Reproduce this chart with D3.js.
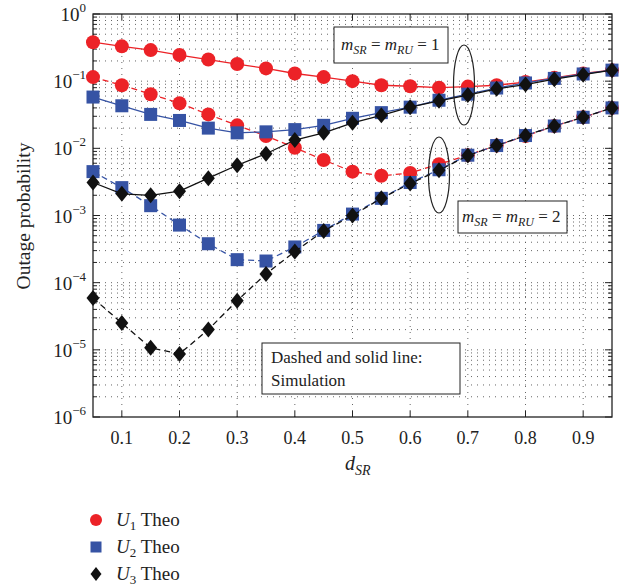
<!DOCTYPE html>
<html><head><meta charset="utf-8">
<script src="https://cdn.jsdelivr.net/npm/d3@7"></script>
<style>body{margin:0;background:#fff;} text{font-family:"Liberation Serif","DejaVu Serif",serif;fill:#222;}</style>
</head><body><svg id="c" width="623" height="586"></svg>
<script>
const xs = [0.05,0.1,0.15,0.2,0.25,0.3,0.35,0.4,0.45,0.5,0.55,0.6,0.65,0.7,0.75,0.8,0.85,0.9,0.95];
const u1m1 = [0.38,0.33,0.29,0.245,0.21,0.18,0.155,0.13,0.115,0.10,0.087,0.084,0.080,0.083,0.087,0.097,0.112,0.13,0.146];
const u2m1 = [0.058,0.043,0.032,0.026,0.020,0.017,0.0176,0.019,0.022,0.028,0.034,0.041,0.052,0.064,0.079,0.094,0.11,0.128,0.146];
const u3m1 = [0.0031,0.0021,0.002,0.0023,0.0036,0.0056,0.0083,0.0133,0.017,0.024,0.031,0.041,0.051,0.062,0.077,0.089,0.107,0.125,0.146];
const u1m2 = [0.115,0.087,0.064,0.047,0.032,0.022,0.0153,0.0102,0.0067,0.0045,0.0039,0.0043,0.0058,0.0079,0.011,0.0153,0.0215,0.029,0.040];
const u2m2 = [0.0045,0.0026,0.0014,0.00072,0.00038,0.00022,0.00021,0.00034,0.0006,0.00105,0.0018,0.0031,0.0048,0.0079,0.011,0.0155,0.0215,0.029,0.040];
const u3m2 = [5.9e-5,2.5e-5,1.07e-5,8.7e-6,2.0e-5,5.4e-5,1.35e-4,2.9e-4,5.9e-4,0.001,0.0018,0.003,0.0047,0.0078,0.011,0.0155,0.0215,0.029,0.040];
const xTicks = [0.1,0.2,0.3,0.4,0.5,0.6,0.7,0.8,0.9];
const yExps = [0,-1,-2,-3,-4,-5,-6];
const legendLabels = ["1","2","3"];

const svg = d3.select("#c");
const L=93,T=14,R=612,B=417;
const x = d3.scaleLinear().domain([0.05,0.95]).range([L,R]);
const y = d3.scaleLog().domain([1e-6,1]).range([B,T]);
const RED="#ec2227", BLUE="#3653a4", BLK="#111";

// grid
const g = svg.append("g");
const minor=[];
for(let e=-6;e<0;e++){for(let k=1;k<10;k++){minor.push(k*Math.pow(10,e));}}
minor.push(1);
g.selectAll("line.gy").data(minor.filter(v=>v>1e-6&&v<1)).enter().append("line")
 .attr("x1",L).attr("x2",R).attr("y1",d=>y(d)).attr("y2",d=>y(d))
 .attr("stroke","#555").attr("stroke-width",0.9).attr("stroke-dasharray","1,5");
g.selectAll("line.gx").data(xTicks).enter().append("line")
 .attr("x1",d=>x(d)).attr("x2",d=>x(d)).attr("y1",T).attr("y2",B)
 .attr("stroke","#555").attr("stroke-width",0.9).attr("stroke-dasharray","1,5");

// axes with ticks inside
const ax = svg.append("g");
minor.forEach(v=>{
  const isMaj = Math.abs(Math.log10(v)-Math.round(Math.log10(v)))<1e-9;
  const len = isMaj?7:4;
  ax.append("line").attr("x1",L).attr("x2",L+len).attr("y1",y(v)).attr("y2",y(v)).attr("stroke","#222");
  ax.append("line").attr("x1",R).attr("x2",R-len).attr("y1",y(v)).attr("y2",y(v)).attr("stroke","#222");
});
xTicks.forEach(v=>{
  ax.append("line").attr("x1",x(v)).attr("x2",x(v)).attr("y1",B).attr("y2",B-6).attr("stroke","#222");
  ax.append("line").attr("x1",x(v)).attr("x2",x(v)).attr("y1",T).attr("y2",T+6).attr("stroke","#222");
});
svg.append("rect").attr("x",L).attr("y",T).attr("width",R-L).attr("height",B-T).attr("fill","none").attr("stroke","#222").attr("stroke-width",1.3);

// tick labels
xTicks.forEach(v=>{
  svg.append("text").attr("x",x(v)).attr("y",444).attr("text-anchor","middle").attr("font-size",18).text(v.toFixed(1));
});
yExps.forEach(e=>{
  const t = svg.append("text").attr("x",86).attr("y",y(Math.pow(10,e))+7).attr("text-anchor","end").attr("font-size",19);
  t.append("tspan").text("10");
  t.append("tspan").attr("dy",-9).attr("font-size",13).text(e===0?"0":"\u2212"+(-e));
});
svg.append("text").attr("transform","translate(30,216) rotate(-90)").attr("text-anchor","middle").attr("font-size",19.5).text("Outage probability");
const xl = svg.append("text").attr("x",345).attr("y",470).attr("font-size",20).attr("font-style","italic");
xl.append("tspan").text("d");
xl.append("tspan").attr("dy",5).attr("font-size",14).text("SR");

// series
const line = d3.line().x((d,i)=>x(xs[i])).y(d=>y(d));
function drawSeries(data,color,dashed,shape){
  svg.append("path").datum(data).attr("d",line).attr("fill","none").attr("stroke",color)
    .attr("stroke-width",1.3).attr("stroke-dasharray",dashed?"6,4":null);
  const gg = svg.append("g");
  data.forEach((v,i)=>{
    const cx=x(xs[i]), cy=y(v);
    if(shape==="c") gg.append("circle").attr("cx",cx).attr("cy",cy).attr("r",7).attr("fill",color);
    else if(shape==="s") gg.append("rect").attr("x",cx-6.5).attr("y",cy-6.5).attr("width",13).attr("height",13).attr("fill",color);
    else gg.append("path").attr("d",`M${cx},${cy-8}L${cx+6.5},${cy}L${cx},${cy+8}L${cx-6.5},${cy}Z`).attr("fill",color);
  });
}
drawSeries(u1m1,RED,false,"c");
drawSeries(u1m2,RED,true,"c");
drawSeries(u2m1,BLUE,false,"s");
drawSeries(u2m2,BLUE,true,"s");
drawSeries(u3m1,BLK,false,"d");
drawSeries(u3m2,BLK,true,"d");

// annotations
function mLabel(xp,yp,val){
  const t = svg.append("text").attr("x",xp).attr("y",yp).attr("font-size",17);
  t.append("tspan").attr("font-style","italic").text("m");
  t.append("tspan").attr("font-style","italic").attr("font-size",12).attr("dy",4).text("SR");
  t.append("tspan").attr("dy",-4).text(" = ");
  t.append("tspan").attr("font-style","italic").text("m");
  t.append("tspan").attr("font-style","italic").attr("font-size",12).attr("dy",4).text("RU");
  t.append("tspan").attr("dy",-4).text(" = "+val);
}
svg.append("rect").attr("x",334).attr("y",27).attr("width",114).attr("height",36).attr("fill","#fff").attr("stroke","#222");
mLabel(341,50,"1");
svg.append("rect").attr("x",458).attr("y",201).attr("width",109).attr("height",32).attr("fill","#fff").attr("stroke","#222");
mLabel(462,222,"2");
svg.append("ellipse").attr("cx",464).attr("cy",85).attr("rx",10.5).attr("ry",40).attr("fill","none").attr("stroke","#222").attr("stroke-width",1.2);
svg.append("ellipse").attr("cx",439).attr("cy",175).attr("rx",10.5).attr("ry",38).attr("fill","none").attr("stroke","#222").attr("stroke-width",1.2);
svg.append("rect").attr("x",262).attr("y",343).attr("width",198).attr("height",51).attr("fill","#fff").attr("stroke","#222");
svg.append("text").attr("x",271).attr("y",363).attr("font-size",17).text("Dashed and solid line:");
svg.append("text").attr("x",271).attr("y",386).attr("font-size",17).text("Simulation");

// legend
const shapes=["c","s","d"], cols=[RED,BLUE,BLK];
legendLabels.forEach((lab,i)=>{
  const cy = 520 + i*27, cx=96;
  if(shapes[i]==="c") svg.append("circle").attr("cx",cx).attr("cy",cy).attr("r",6).attr("fill",cols[i]);
  else if(shapes[i]==="s") svg.append("rect").attr("x",cx-5.5).attr("y",cy-5.5).attr("width",11).attr("height",11).attr("fill",cols[i]);
  else svg.append("path").attr("d",`M${cx},${cy-7}L${cx+5.5},${cy}L${cx},${cy+7}L${cx-5.5},${cy}Z`).attr("fill",cols[i]);
  const t = svg.append("text").attr("x",116).attr("y",cy+6).attr("font-size",19);
  t.append("tspan").attr("font-style","italic").text("U");
  t.append("tspan").attr("font-size",13).attr("dy",4).text(lab);
  t.append("tspan").attr("dy",-4).text(" Theo");
});
</script></body></html>
